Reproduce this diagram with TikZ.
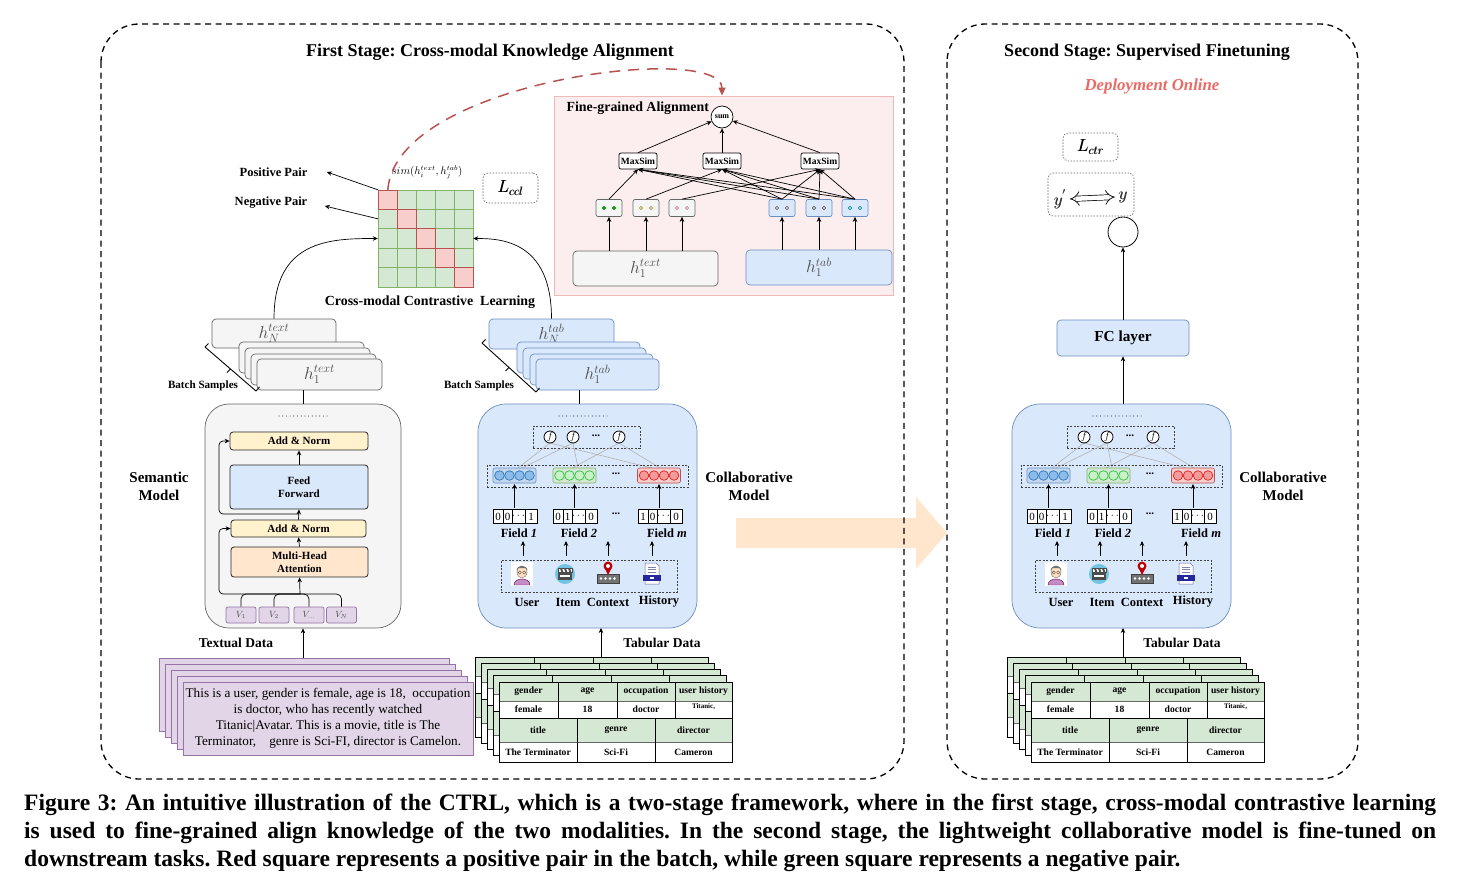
\documentclass[tikz,border=0pt]{standalone}
\usepackage{fontspec}
\setmainfont{Liberation Serif}
\usetikzlibrary{arrows.meta,shapes.geometric,calc}
\frenchspacing
\definecolor{gfill}{HTML}{F5F5F5}
\definecolor{gline}{HTML}{666666}
\definecolor{bfill}{HTML}{DAE8FC}
\definecolor{bline}{HTML}{6C8EBF}
\definecolor{yfill}{HTML}{FFF2CC}
\definecolor{ofill}{HTML}{FFE6CC}
\definecolor{pfill}{HTML}{E1D5E7}
\definecolor{pline}{HTML}{9673A6}
\definecolor{grfill}{HTML}{D5E8D4}
\definecolor{grline}{HTML}{82B366}
\definecolor{rfill}{HTML}{F8CECC}
\definecolor{rline}{HTML}{B85450}
\definecolor{pinkfill}{HTML}{FCEEEE}
\definecolor{pinkline}{HTML}{EDB9B9}
\definecolor{deploy}{HTML}{EA6B66}
\definecolor{peach}{HTML}{FFE6CC}
\definecolor{cbl}{HTML}{2E75B6}
\definecolor{cbf}{HTML}{8CBCEB}
\definecolor{cbr}{HTML}{C4D9F0}
\definecolor{cgl}{HTML}{2DBE3C}
\definecolor{cgf}{HTML}{C9F2C9}
\definecolor{crl}{HTML}{DD2222}
\definecolor{crf}{HTML}{F39A9A}
\newcommand\fsz[2]{\fontsize{#1pt}{#2pt}\selectfont}
\newcommand\fakebold[1]{\rlap{#1}\hspace{0.45pt}#1}
\newcommand\hlab[1]{\textcolor{black!70}{\fsz{17}{17}$#1$}}
\tikzset{
  arr/.style={-{Stealth[length=5pt,width=4.5pt]}, line width=0.7pt},
  sized/.style 2 args={minimum width=#1pt, minimum height=#2pt, inner sep=0pt},
  gbox/.style={draw=gline, fill=gfill, rounded corners=4pt, line width=0.7pt},
  bbox/.style={draw=bline, fill=bfill, rounded corners=4pt, line width=0.7pt},
  dbox/.style={draw=black!75, dash pattern=on 2pt off 1.5pt, line width=0.6pt},
  lbox/.style={draw=black!60, dash pattern=on 1.5pt off 1.5pt, rounded corners=5pt, line width=0.6pt},
  frame/.style={draw=black, dash pattern=on 6pt off 4.5pt, line width=1.3pt, rounded corners=38pt},
  blk/.style={draw=black!85, rounded corners=3pt, line width=0.8pt, font=\bfseries\fsz{11}{13}, align=center},
  lbl/.style={font=\bfseries\fsz{12.5}{14}},
  bigl/.style={font=\bfseries\fsz{15}{18}, align=center},
  fcirc/.style={circle, draw=black, fill=white, minimum size=12pt, inner sep=0pt, line width=0.8pt},
  maxs/.style={draw=black, fill=white, rounded corners=2pt, minimum width=38pt, minimum height=16pt, inner sep=0pt, font=\bfseries\fsz{9.5}{10}, line width=0.7pt},
  tok/.style={rounded corners=2pt, minimum width=26pt, minimum height=17pt, inner sep=0pt, line width=0.7pt},
  tcell/.style={font=\bfseries\fsz{9.6}{10}, inner sep=0pt}
}
% ---------- icons ----------
\newcommand\usericon[2]{\begin{scope}[shift={(#1,#2)}]
 \path[fill=white] (-11,-12) rectangle (11,12);
 \path[fill=violet!45, draw=violet!70!black, line width=0.4pt] (-8,11) .. controls (-8,3) and (8,3) .. (8,11) -- cycle;
 \path[fill=orange!25, draw=black!60, line width=0.4pt] (0,-2) ellipse (5 and 6);
 \path[fill=black!55] (-5.2,-3) .. controls (-6,-10) and (6,-10) .. (5.2,-3) -- (4,-6) -- (-4,-6) -- cycle;
 \draw[black!70, line width=0.4pt] (-2.2,-1.5) circle (1.6) (2.2,-1.5) circle (1.6);
\end{scope}}
\newcommand\itemicon[2]{\begin{scope}[shift={(#1,#2)}]
 \path[fill=cyan!70!teal!60] (0,0) circle (10);
 \path[fill=black!70] (-7,-1) rectangle (7,6);
 \path[fill=white, draw=black!70, line width=0.4pt] (-7,-5.5) rectangle (7,-1.5);
 \foreach \s in {-5,-1,3} \path[fill=black!70] (\s,-5.5) -- (\s+2,-5.5) -- (\s+3.5,-1.5) -- (\s+1.5,-1.5) -- cycle;
 \path[fill=white] (-5,1) rectangle (5,3);
\end{scope}}
\newcommand\contexticon[2]{\begin{scope}[shift={(#1,#2)}]
 \path[fill=black!55, draw=black!75, line width=0.4pt] (-11,0) rectangle (11,9);
 \foreach \s in {-7,-2.5,2,6.5} \path[fill=white] (\s,4.5) circle (1.4);
 \path[fill=red!75!black] (-3.5,-6) -- (0,1) -- (3.5,-6) -- cycle;
 \path[fill=red!75!black] (0,-8) circle (4.5);
 \path[fill=white] (0,-8) circle (2);
\end{scope}}
\newcommand\historyicon[2]{\begin{scope}[shift={(#1,#2)}]
 \path[fill=white, draw=blue!40!black!60, line width=0.5pt] (-7,-11) -- (4,-11) -- (7,-8) -- (7,10) -- (-7,10) -- cycle;
 \draw[blue!40!black!50, line width=0.6pt] (-4,-7)--(4,-7) (-4,-4.5)--(4,-4.5) (-4,-2)--(4,-2);
 \path[fill=blue!55!black!85] (-9,1) rectangle (9,7);
 \path[fill=white] (-2,3.3) rectangle (2,4.7);
\end{scope}}
% ---------- pieces ----------
\newcommand\embgroup[6]{%
 \node[draw=#2, fill=#3, rounded corners=2pt, sized={43}{15}, line width=0.6pt] (#6) at (#1,475.5) {};
 \foreach \d in {-15,-5,5,15} \path[draw=#4, fill=#5, line width=0.7pt] (#1+\d,475.5) circle (4.8);}
\newcommand\onehot[5]{\begin{scope}[shift={(#1,516)}]
 \path[fill=white] (0,-7) rectangle (44,7);
 \draw[line width=0.8pt] (0,-7) rectangle (44,7) (10,-7)--(10,7) (19,-7)--(19,7) (32,-7)--(32,7);
 \node[font=\fsz{11}{11}, inner sep=0] (#5a) at (5,0.5) {#2};
 \node[font=\fsz{11}{11}, inner sep=0] (#5b) at (14.5,0.5) {#3};
 \node[font=\fsz{11}{11}, inner sep=0] (#5c) at (25.5,0) {$\cdots$};
 \node[font=\fsz{11}{11}, inner sep=0] (#5d) at (38,0.5) {#4};
\end{scope}}
\newcommand\collabmodel{%
 \node[bbox, rounded corners=28pt, sized={219}{224}] (cm) at (587.5,516) {};
 \foreach \k in {0,...,13} \path[fill=black!70] (559+\k*3.7,416) circle (0.6);
 \node[dbox, sized={107}{22}] (fb) at (586.5,437) {};
 \draw[black!30, line width=0.6pt] (550,443)--(518,468) (550,443)--(652,468) (573,443)--(522,468) (573,443)--(578,468) (619,443)--(572,468) (619,443)--(660,468);
 \node[fcirc] (f1) at (550,437) {\fsz{10}{10}$f$};
 \node[fcirc] (f2) at (573,437) {\fsz{10}{10}$f$};
 \node[fcirc] (f3) at (619,437) {\fsz{10}{10}$f$};
 \node[font=\bfseries\fsz{11}{11}] (fd) at (596,436) {...};
 \node[dbox, sized={201}{22}] (eb) at (587.5,476) {};
 \embgroup{514.5}{bline}{cbr}{cbl}{cbf}{g1}
 \embgroup{574.5}{grline}{grfill}{cgl}{cgf}{g2}
 \embgroup{659}{rline}{rfill}{crl}{crf}{g3}
 \node[font=\bfseries\fsz{11}{11}] (ed) at (616,474) {...};
 \onehot{493}{0}{0}{1}{oa}
 \onehot{553}{0}{1}{0}{ob}
 \onehot{638}{1}{0}{0}{oc}
 \node[font=\bfseries\fsz{11}{11}] (od) at (616,514) {...};
 \draw[arr] (514.5,508) -- (514.5,484);
 \draw[arr] (574.5,508) -- (574.5,484);
 \draw[arr] (659,508) -- (659,484);
 \node[lbl] (fl1) at (519,533) {Field \textit{1}};
 \node[lbl] (fl2) at (579,533) {Field \textit{2}};
 \node[lbl] (fl3) at (667,533) {Field \textit{m}};
 \foreach \x in {523,566,608,652} \draw[arr] (\x,556) -- (\x,541);
 \node[dbox, sized={176}{32}] (ib) at (589,576) {};
 \usericon{522}{574}
 \itemicon{565}{574}
 \contexticon{608}{574}
 \historyicon{652}{574}
 \node[lbl] (u1) at (527,602) {User};
 \node[lbl] (u2) at (568,602) {Item};
 \node[lbl] (u3) at (608,602) {Context};
 \node[lbl] (u4) at (659,602) {History};
 \node[bigl] (cml) at (749,486) {Collaborative\\Model};
}
\newcommand\tabgrid[2]{\begin{scope}[shift={(#1,#2)}]
 \path[fill=grfill] (0,0) rectangle (233,19);
 \path[fill=white] (0,19) rectangle (233,36);
 \path[fill=grfill] (0,36) rectangle (233,60);
 \path[fill=white] (0,60) rectangle (233,80);
 \draw[line width=0.6pt, black!60] (0,19)--(233,19) (0,60)--(233,60);
 \draw[line width=0.8pt] (0,36)--(233,36) (59,0)--(59,36) (118,0)--(118,36) (176,0)--(176,36) (78,36)--(78,80) (156,36)--(156,80);
 \draw[line width=1pt] (0,0) rectangle (233,80);
\end{scope}}
\newcommand\tabstack{%
 \tabgrid{475}{657}\tabgrid{481}{663}\tabgrid{487}{669}\tabgrid{493}{675}\tabgrid{499}{682}
 \begin{scope}[shift={(499,682)}]
 \node[tcell] (c11) at (29.5,9.5) {gender};
 \node[tcell] (c12) at (88.5,9.5) {age};
 \node[tcell] (c13) at (147,9.5) {occupation};
 \node[tcell] (c14) at (204.5,9.5) {user history};
 \node[tcell] (c21) at (29.5,27.5) {female};
 \node[tcell] (c22) at (88.5,27.5) {18};
 \node[tcell] (c23) at (147,27.5) {doctor};
 \node[tcell, font=\bfseries\fsz{7}{7}] (c24) at (204.5,24.5) {Titanic,};
 \node[tcell] (c31) at (39,48) {title};
 \node[tcell] (c32) at (117,48) {genre};
 \node[tcell] (c33) at (194.5,48) {director};
 \node[tcell] (c41) at (39,70) {The Terminator};
 \node[tcell] (c42) at (117,70) {Sci-Fi};
 \node[tcell] (c43) at (194.5,70) {Cameron};
 \end{scope}}
\begin{document}
\begin{tikzpicture}[x=1pt,y=-1pt]
\useasboundingbox (0,0) rectangle (1461,883);
\path[fill=white] (0,0) rectangle (1461,883);
% big transfer arrow
\path[fill=peach] (736,518) -- (916,518) -- (916,497) -- (947,533) -- (916,569) -- (916,548) -- (736,548) -- cycle;
% frames
\draw[frame] (101,24) rectangle (904,779);
\draw[frame] (947,24) rectangle (1358,779);
\node[font=\bfseries\fsz{18}{20}] (t1) at (490,52) {First Stage: Cross-modal Knowledge Alignment};
\node[font=\bfseries\fsz{18}{20}] (t2) at (1147,52) {Second Stage: Supervised Finetuning};
\node[font=\bfseries\itshape\fsz{16.8}{18}, text=deploy] (dep) at (1152,86) {Deployment Online};
% ---------- fine grained alignment ----------
\node[draw=pinkline, fill=pinkfill, sized={339}{199}, line width=0.8pt] (fg) at (723.5,195.5) {};
\node[font=\bfseries\fsz{13.9}{15}, anchor=west] (fgl) at (563,108) {Fine-grained Alignment};
\node[circle, draw=black, fill=white, minimum size=22pt, inner sep=0pt, line width=0.7pt, font=\bfseries\fsz{8}{8}] (sum) at (722,117) {sum};
\node[maxs] (m1) at (638,161) {MaxSim};
\node[maxs] (m2) at (722,161) {MaxSim};
\node[maxs] (m3) at (820,161) {MaxSim};
\node[gbox, sized={145}{35}] (ht) at (645.5,268.5) {\hlab{h_1^{text}}};
\node[bbox, sized={146}{35}] (hb) at (819,267.5) {\hlab{h_1^{tab}}};
\node[tok, draw=gline, fill=gfill] (ta) at (609,208) {};
\node[tok, draw=gline, fill=gfill] (tb) at (646,208) {};
\node[tok, draw=gline, fill=gfill] (tc) at (682,208) {};
\node[tok, draw=bline, fill=bfill] (ba) at (782,208) {};
\node[tok, draw=bline, fill=bfill] (bb) at (819,208) {};
\node[tok, draw=bline, fill=bfill] (bc) at (855,208) {};
\foreach \n/\ca/\cb in {ta/green!60!black/green!60!black, tb/olive!70/gray!40, tc/purple!50/gray!40, ba/black!60/gray!40, bb/black!70/gray!30, bc/teal/cyan!30}{
  \path[draw=\ca, fill=\cb, line width=0.5pt] ($(\n)+(-5,0)$) circle (1.7);
  \path[draw=\ca, fill=\cb, line width=0.5pt] ($(\n)+(5,0)$) circle (1.7);}
\foreach \n in {ta,tb,tc} \draw[arr] (\n.south |- ht.north) -- (\n.south);
\foreach \n in {ba,bb,bc} \draw[arr] (\n.south |- hb.north) -- (\n.south);
\draw[arr] (ta.north) -- (m1.south);
\draw[arr] (tb.north) -- (m2.south);
\draw[arr] (tc.north) -- (m3.south);
\foreach \n in {ba,bb,bc}{\foreach \m in {m1,m2,m3} \draw[arr] (\n.north) -- (\m.south);}
\foreach \m in {m1,m2,m3} \draw[arr] (\m.north) -- (sum);
% ---------- contrastive matrix ----------
\foreach \i in {0,...,4}{\foreach \j in {0,...,4}{%
  \ifnum\i=\j\else\path[draw=grline, fill=grfill, line width=0.8pt] (378+19*\j,190+19.4*\i) rectangle ++(19,19.4);\fi}}
\foreach \i in {0,...,4} \path[draw=rline, fill=rfill, line width=0.8pt] (378+19*\i,190+19.4*\i) rectangle ++(19,19.4);
\node[sized={95}{97}] (mat) at (425.5,238.5) {};
\node[font=\fsz{10.5}{11}] (sim) at (427,172) {$sim(h_i^{text},h_j^{tab})$};
\node[lbox, sized={55}{30}, font=\fsz{18}{18}] (lccl) at (510.5,188) {\fakebold{$L_{ccl}$}};
\node[lbl] (pos) at (273.5,172) {Positive Pair};
\node[lbl] (neg) at (271,203) {Negative Pair};
\draw[arr] (mat.north west) -- ($(pos.east)+(16,0)$);
\draw[arr] ($(mat.north west)+(0,29)$) -- ($(neg.east)+(14,3)$);
\node[font=\bfseries\fsz{13.9}{15}] (ccl) at (430,302) {Cross-modal Contrastive ~Learning};
\draw[rline, line width=1.5pt, dash pattern=on 11pt off 8pt, -{Triangle[length=8pt,width=7pt]}] ($(mat.north west)+(10,0)$) .. controls (396,80) and (722,42) .. (fg.north -| sum);
% ---------- text embeddings stack ----------
\node[gbox, sized={124}{29}] (hNt) at (274,333.5) {\hlab{h_N^{text}}};
\foreach \px/\py in {239/342,245/348,251/354} \path[gbox] (\px,\py) rectangle ++(125,31);
\node[gbox, sized={125}{31}] (h1t) at (319.5,374.5) {\hlab{h_1^{text}}};
\draw[line width=0.9pt] (205,347) -- (256,391) (205,347) -- (208.5,343.5) (256,391) -- (259.5,387) (230.5,369) -- (227,372.5);
\node[font=\bfseries\fsz{11.1}{11}] (bs1) at (203,386) {Batch Samples};
\draw[arr] (hNt.north) .. controls (274,240) and (330,238.5) .. (mat.west);
% ---------- tab embeddings stack ----------
\node[bbox, sized={125}{30}] (hNb) at (551.5,334) {\hlab{h_N^{tab}}};
\foreach \px/\py in {517/342,523/348,530/354} \path[bbox] (\px,\py) rectangle ++(123,31);
\node[bbox, sized={123}{31}] (h1b) at (597.5,374.5) {\hlab{h_1^{tab}}};
\draw[line width=0.9pt] (482,343) -- (536,392) (482,343) -- (485.5,339.5) (536,392) -- (539.5,388) (509,367.5) -- (505.5,371);
\node[font=\bfseries\fsz{11.1}{11}] (bs2) at (479,386) {Batch Samples};
\draw[arr] (hNb.north) .. controls (551.5,240) and (500,238.5) .. (mat.east);
% ---------- semantic model ----------
\node[gbox, rounded corners=24pt, sized={196}{224}] (sem) at (303,516) {};
\foreach \k in {0,...,13} \path[fill=black!70] (279+\k*3.7,416) circle (0.6);
\node[blk, fill=yfill, sized={138}{18}] (an1) at (299,441) {Add \& Norm};
\node[blk, fill=bfill, sized={138}{44}] (ff) at (299,487) {Feed\\Forward};
\node[blk, fill=yfill, sized={135}{17}] (an2) at (298.5,528.5) {Add \& Norm};
\node[blk, fill=ofill, sized={137}{30}] (mha) at (299.5,562) {Multi-Head\\Attention};
\node[draw=pline, fill=pfill, rounded corners=2pt, sized={30}{16}, line width=0.7pt] (v1) at (241,615) {\textcolor{black!70}{\fsz{9}{9}$V_1$}};
\node[draw=pline, fill=pfill, rounded corners=2pt, sized={30}{16}, line width=0.7pt] (v2) at (274,615) {\textcolor{black!70}{\fsz{9}{9}$V_2$}};
\node[draw=pline, fill=pfill, rounded corners=2pt, sized={30}{16}, line width=0.7pt] (v3) at (309,615) {\textcolor{black!70}{\fsz{9}{9}$V_{...}$}};
\node[draw=pline, fill=pfill, rounded corners=2pt, sized={30}{16}, line width=0.7pt] (v4) at (341.5,615) {\textcolor{black!70}{\fsz{9}{9}$V_N$}};
\foreach \v in {v1,v2,v3,v4} \draw[rounded corners=5pt, line width=0.7pt] (\v.north) |- (300,594);
\draw[arr] (300,594) -- (mha.south);
\draw[arr, rounded corners=4pt] (300,594) -| (219,528.5) -- (an2.west);
\draw[arr, rounded corners=4pt] (299,514) -| (219,441) -- (an1.west);
\draw[arr] (mha.north) -- (an2.south);
\draw[arr] (an2.north) -- (ff.south);
\draw[arr] (ff.north) -- (an1.south);
\draw[line width=0.7pt] (sem.north) -- (sem.north |- h1t.south);
\node[bigl] (seml) at (159,486) {Semantic\\Model};
% ---------- textual data ----------
\foreach \k in {0,...,3} \path[draw=pline, fill=pfill, line width=0.8pt] (159+6*\k,658+6*\k) rectangle ++(290,73);
\node[draw=pline, fill=pfill, sized={290}{73}, line width=0.8pt, align=center, font=\fsz{13.2}{16}] (txt) at (328,718.5) {This is a user, gender is female, age is 18,~ occupation\\is doctor, who has recently watched\\Titanic|Avatar. This is a movie, title is The\\Terminator,~~~ genre is Sci-FI, director is Camelon.};
\node[font=\bfseries\fsz{13.5}{14}] (tdl) at (236,643) {Textual Data};
\draw[arr] (303,658) -- (sem.south);
% ---------- collaborative model (left) ----------
\collabmodel
\draw[line width=0.7pt] (579,390) -- (579,404);
\tabstack
\node[font=\bfseries\fsz{13.5}{14}] (tbl1) at (662,643) {Tabular Data};
\draw[arr] (601,657) -- (601,628);
% ---------- second stage ----------
\begin{scope}[xshift=534pt, name prefix=R-]
\collabmodel
\end{scope}
\begin{scope}[xshift=532pt, name prefix=S-]
\tabstack
\end{scope}
\node[font=\bfseries\fsz{13.5}{14}] (tbl2) at (1182,643) {Tabular Data};
\draw[arr] (1123,657) -- (1123,628);
\node[bbox, sized={132}{36}, font=\bfseries\fsz{15.3}{16}] (fc) at (1123,338) {FC layer};
\draw[arr] (1123,404) -- (fc.south);
\node[circle, draw=black, fill=white, minimum size=30pt, inner sep=0pt, line width=0.8pt] (out) at (1123,232) {};
\draw[arr] (fc.north) -- (out.south);
\node[lbox, sized={86}{43}] (yy) at (1091,194.5) {};
\node[font=\fsz{18}{18}] (yp) at (1060,199) {\textcolor{black!80}{\fakebold{$y^{'}$}}};
\node[font=\fsz{18}{18}] (yt) at (1123,197) {\textcolor{black!80}{\fakebold{$y$}}};
\draw[line width=0.7pt, double distance=4.5pt, {Implies}-{Implies}] (yp.east) -- (yt.west);
\node[lbox, sized={55}{28}, font=\fsz{18}{18}] (lctr) at (1090.5,147) {\fakebold{$L_{ctr}$}};
% ---------- caption ----------
\node[anchor=north west, text width=1412pt, align=justify, inner sep=0pt, font=\bfseries\fsz{23.5}{28}] (cap) at (24,794) {Figure 3: An intuitive illustration of the CTRL, which is a two-stage framework, where in the first stage, cross-modal contrastive learning\linebreak is used to fine-grained align knowledge of the two modalities. In the second stage, the lightweight collaborative model is fine-tuned on\linebreak downstream tasks. Red square represents a positive pair in the batch, while green square represents a negative pair.};
\end{tikzpicture}
\end{document}
